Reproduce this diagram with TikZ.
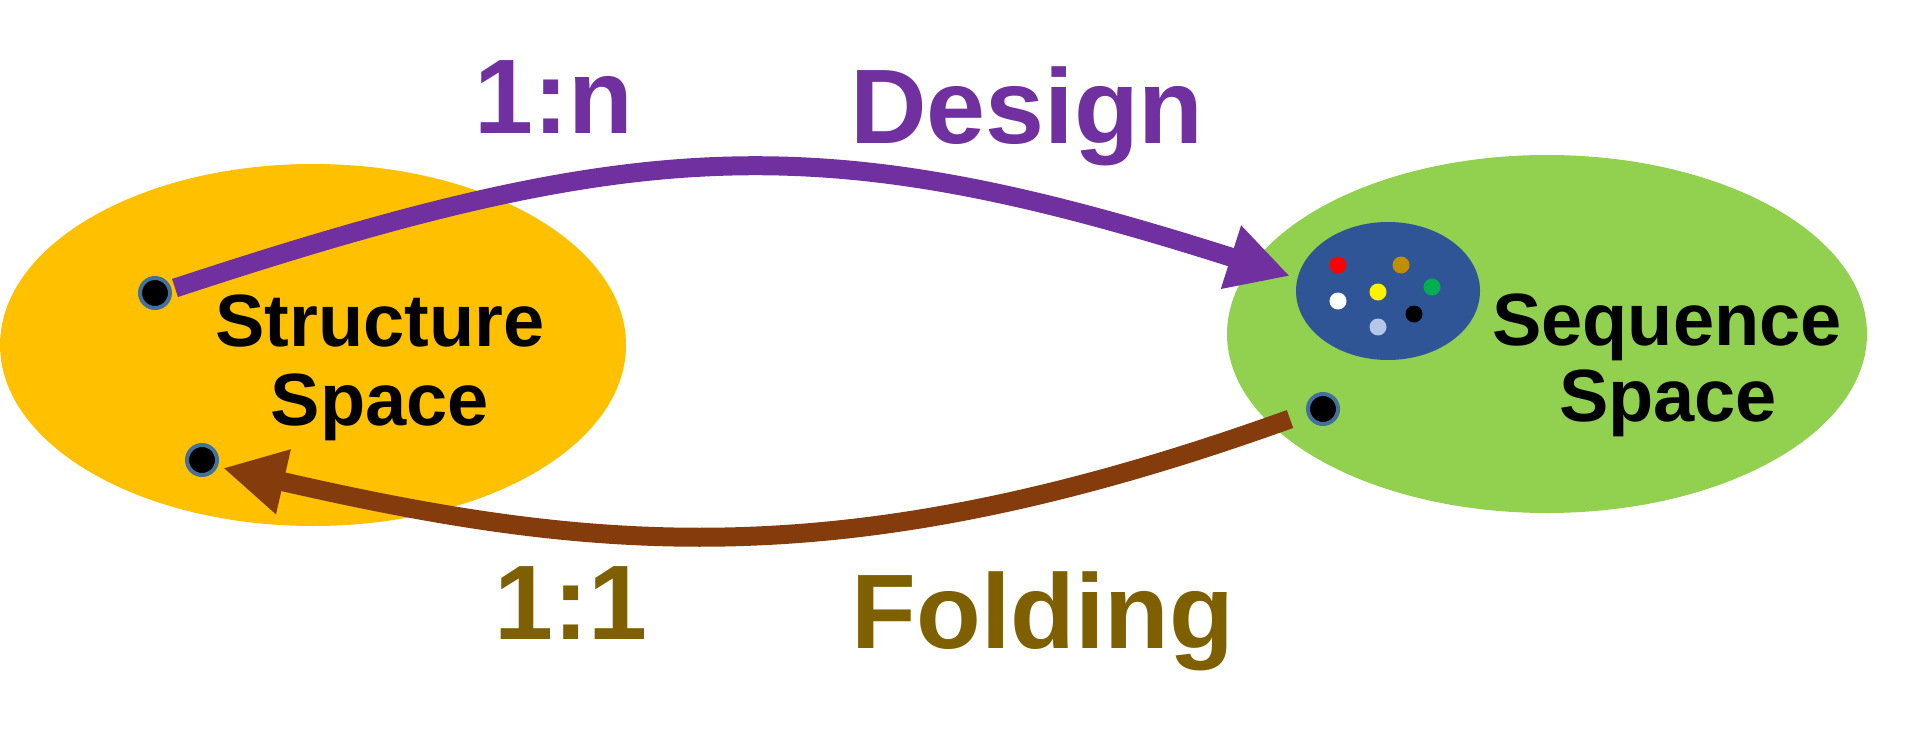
\documentclass[tikz,border=0pt]{standalone}
\usepackage{fontspec}
\setmainfont{Liberation Sans}
\usetikzlibrary{arrows.meta,shapes.geometric}
\definecolor{cyellow}{HTML}{FFC000}
\definecolor{cgreen}{HTML}{92D050}
\definecolor{cblue}{HTML}{2F5597}
\definecolor{cpurple}{HTML}{7030A0}
\definecolor{cbrown}{HTML}{843C0C}
\definecolor{colive}{HTML}{7F6000}
\definecolor{dgold}{HTML}{BF8F00}
\definecolor{dgreen}{HTML}{00B050}
\definecolor{dlblue}{HTML}{B4C7E7}
\definecolor{ringblue}{HTML}{41719C}
\tikzset{
  space/.style={ellipse, draw=none, inner sep=0pt},
  dot/.style={circle, inner sep=0pt, minimum size=17pt, draw=none},
  pin/.style={circle, inner sep=0pt, minimum size=30pt, fill=black, draw=ringblue, line width=4pt},
  bigtxt/.style={font=\fontsize{106}{120}\selectfont\bfseries, anchor=base, inner sep=0pt},
  spacetxt/.style={font=\fontsize{74}{80}\selectfont\bfseries, anchor=base, inner sep=0pt},
  arr/.style={line width=19pt, -{Triangle[length=62pt,width=62pt]}},
}
\begin{document}
\begin{tikzpicture}[x=1pt,y=-1pt]
\useasboundingbox (0,0) rectangle (1916,741);
% spaces
\node[space, fill=cyellow, minimum width=626pt, minimum height=362pt] (struct) at (313,345) {};
\node[space, fill=cgreen, minimum width=640pt, minimum height=358pt] (seq) at (1547,334) {};
\node[space, fill=cblue, minimum width=184pt, minimum height=138pt] (cloud) at (1388,291) {};
% dots
\node[dot, fill=red] (d1) at (1338,265) {};
\node[dot, fill=dgold] (d2) at (1401,265) {};
\node[dot, fill=dgreen] (d3) at (1432,287) {};
\node[dot, fill=white] (d4) at (1338,301) {};
\node[dot, fill=yellow] (d5) at (1378,292) {};
\node[dot, fill=black] (d6) at (1414,314) {};
\node[dot, fill=dlblue] (d7) at (1378,327) {};
% texts
\node[spacetxt] (t1) at (380,346) {Structure};
\node[spacetxt] (t2) at (380,425) {Space};
\node[spacetxt] (t3) at (1667,345) {Sequence};
\node[spacetxt] (t4) at (1668,421) {Space};
\node[bigtxt, text=cpurple] (l1) at (554,134) {1:n};
\node[bigtxt, text=cpurple] (l2) at (1027,143) {Design};
\node[bigtxt, text=colive] (l3) at (571,639) {1:1};
\node[bigtxt, text=colive] (l4) at (1043,648) {Folding};
% pins
\node[pin] (p1) at (155,293) {};
\node[pin] (p2) at (202,460) {};
\node[pin] (p3) at (1323,409) {};
% arrows
\coordinate (a0) at (175,288);
\coordinate (a1) at (1290,276);
\coordinate (b0) at (1290,419);
\coordinate (b1) at (223,468);
\draw[arr, draw=cpurple] (a0) .. controls (642,134) and (823,127) .. (a1);
\draw[arr, draw=cbrown] (b0) .. controls (851,577) and (599,554) .. (b1);
\end{tikzpicture}
\end{document}
